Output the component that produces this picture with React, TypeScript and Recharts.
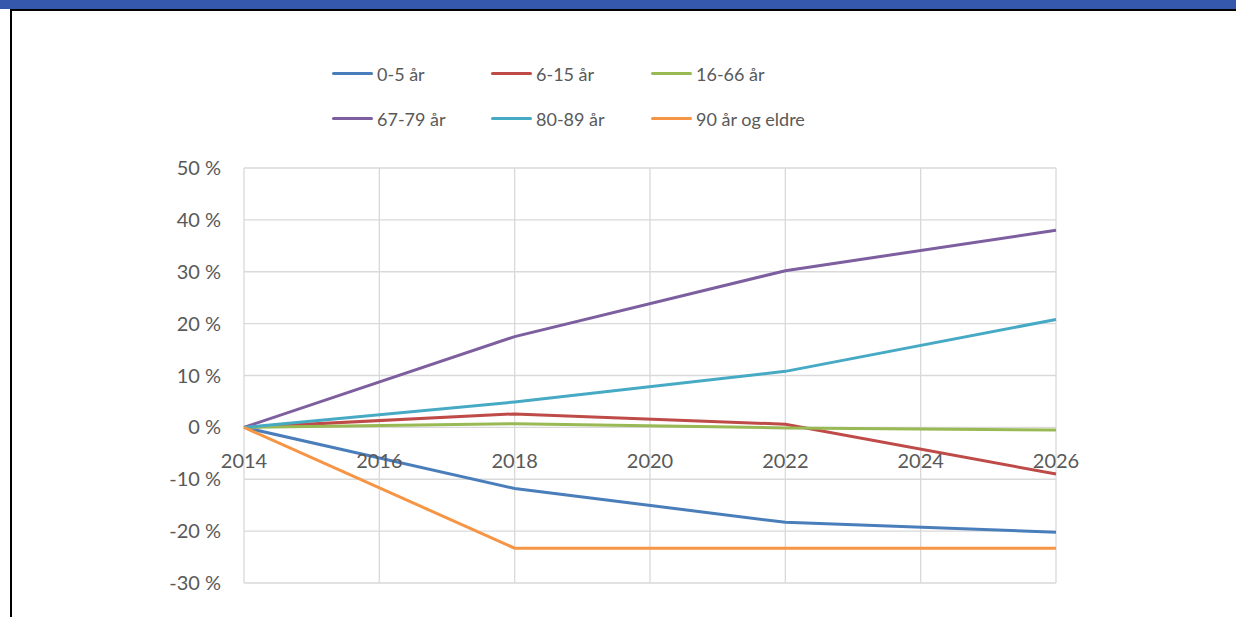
import React from 'react';
import {
  LineChart, Line, XAxis, YAxis, CartesianGrid,
} from 'recharts';

const years = [2014, 2018, 2022, 2026];
const xTicks = [2014, 2016, 2018, 2020, 2022, 2024, 2026];
const yTicks = [-30, -20, -10, 0, 10, 20, 30, 40, 50];

const age0to5 = [0, -11.8, -18.3, -20.2];
const age6to15 = [0, 2.6, 0.6, -9.0];
const age16to66 = [0, 0.7, -0.1, -0.5];
const age67to79 = [0, 17.5, 30.2, 38.0];
const age80to89 = [0, 4.9, 10.8, 20.8];
const age90plus = [0, -23.3, -23.3, -23.3];

const SERIES = [
  { key: 'a', name: '0-5 år', values: age0to5, color: '#4a7ebb' },
  { key: 'b', name: '6-15 år', values: age6to15, color: '#be4b48' },
  { key: 'c', name: '16-66 år', values: age16to66, color: '#98b954' },
  { key: 'd', name: '67-79 år', values: age67to79, color: '#7d5fa0' },
  { key: 'e', name: '80-89 år', values: age80to89, color: '#46aac5' },
  { key: 'f', name: '90 år og eldre', values: age90plus, color: '#f69545' },
];

const data = years.map((year, i) => {
  const row: Record<string, number> = { year };
  SERIES.forEach((s) => { row[s.key] = s.values[i]; });
  return row;
});

const W = 1236;
const H = 617;
const X_AXIS_H = 30;
const M = { top: 168, right: 180, bottom: 34 - X_AXIS_H, left: 0 };
const Y_MIN = -30;
const Y_MAX = 50;
const plotH = H - M.top - 34;
const zeroY = M.top + (plotH * Y_MAX) / (Y_MAX - Y_MIN);
const TEXT = '#595959';

function YearTick({ x, payload }: any) {
  return (
    <text x={x} y={zeroY + 33} dy="0.36em" textAnchor="middle" fill={TEXT} fontSize={20}>
      {payload.value}
    </text>
  );
}

function LegendBox() {
  return (
    <div
      style={{
        position: 'absolute', top: 51, left: 332,
        display: 'grid', gridTemplateColumns: '159px 160px 200px',
      }}
    >
      {SERIES.map((s) => (
        <div key={s.key} style={{ display: 'flex', alignItems: 'center', height: 45 }}>
          <span style={{ width: 41, height: 3, background: s.color, borderRadius: 2, marginRight: 4 }} />
          <span style={{ fontSize: 18, color: TEXT, whiteSpace: 'nowrap' }}>{s.name}</span>
        </div>
      ))}
    </div>
  );
}

export default function App() {
  return (
    <div
      style={{
        position: 'fixed', top: 0, left: 0, width: W, height: H,
        background: '#fff', fontFamily: 'Lato, sans-serif', overflow: 'hidden',
      }}
    >
      <div style={{ position: 'absolute', top: 0, left: 0 }}>
        <LineChart width={W} height={H} data={data} margin={M}>
          <CartesianGrid stroke="#d9d9d9" strokeWidth={1.3} />
          <XAxis
            dataKey="year"
            type="number"
            domain={[2014, 2026]}
            ticks={xTicks}
            height={X_AXIS_H}
            axisLine={false}
            tickLine={false}
            tick={<YearTick />}
            interval={0}
          />
          <YAxis
            type="number"
            domain={[Y_MIN, Y_MAX]}
            ticks={yTicks}
            width={244}
            axisLine={false}
            tickLine={false}
            tickSize={0}
            tickMargin={23}
            tick={{ fill: TEXT, fontSize: 20 }}
            tickFormatter={(v: number) => `${v} %`}
          />
          {SERIES.map((s) => (
            <Line
              key={s.key}
              dataKey={s.key}
              name={s.name}
              stroke={s.color}
              strokeWidth={3}
              dot={false}
              type="linear"
              isAnimationActive={false}
            />
          ))}
        </LineChart>
      </div>
      <LegendBox />
      <div style={{ position: 'absolute', top: 0, left: 0, width: W, height: 9, background: '#3658ac' }} />
      <div style={{ position: 'absolute', top: 9, left: 10, width: W, height: 2, background: '#000' }} />
      <div style={{ position: 'absolute', top: 9, left: 10, width: 2, height: H, background: '#000' }} />
    </div>
  );
}
